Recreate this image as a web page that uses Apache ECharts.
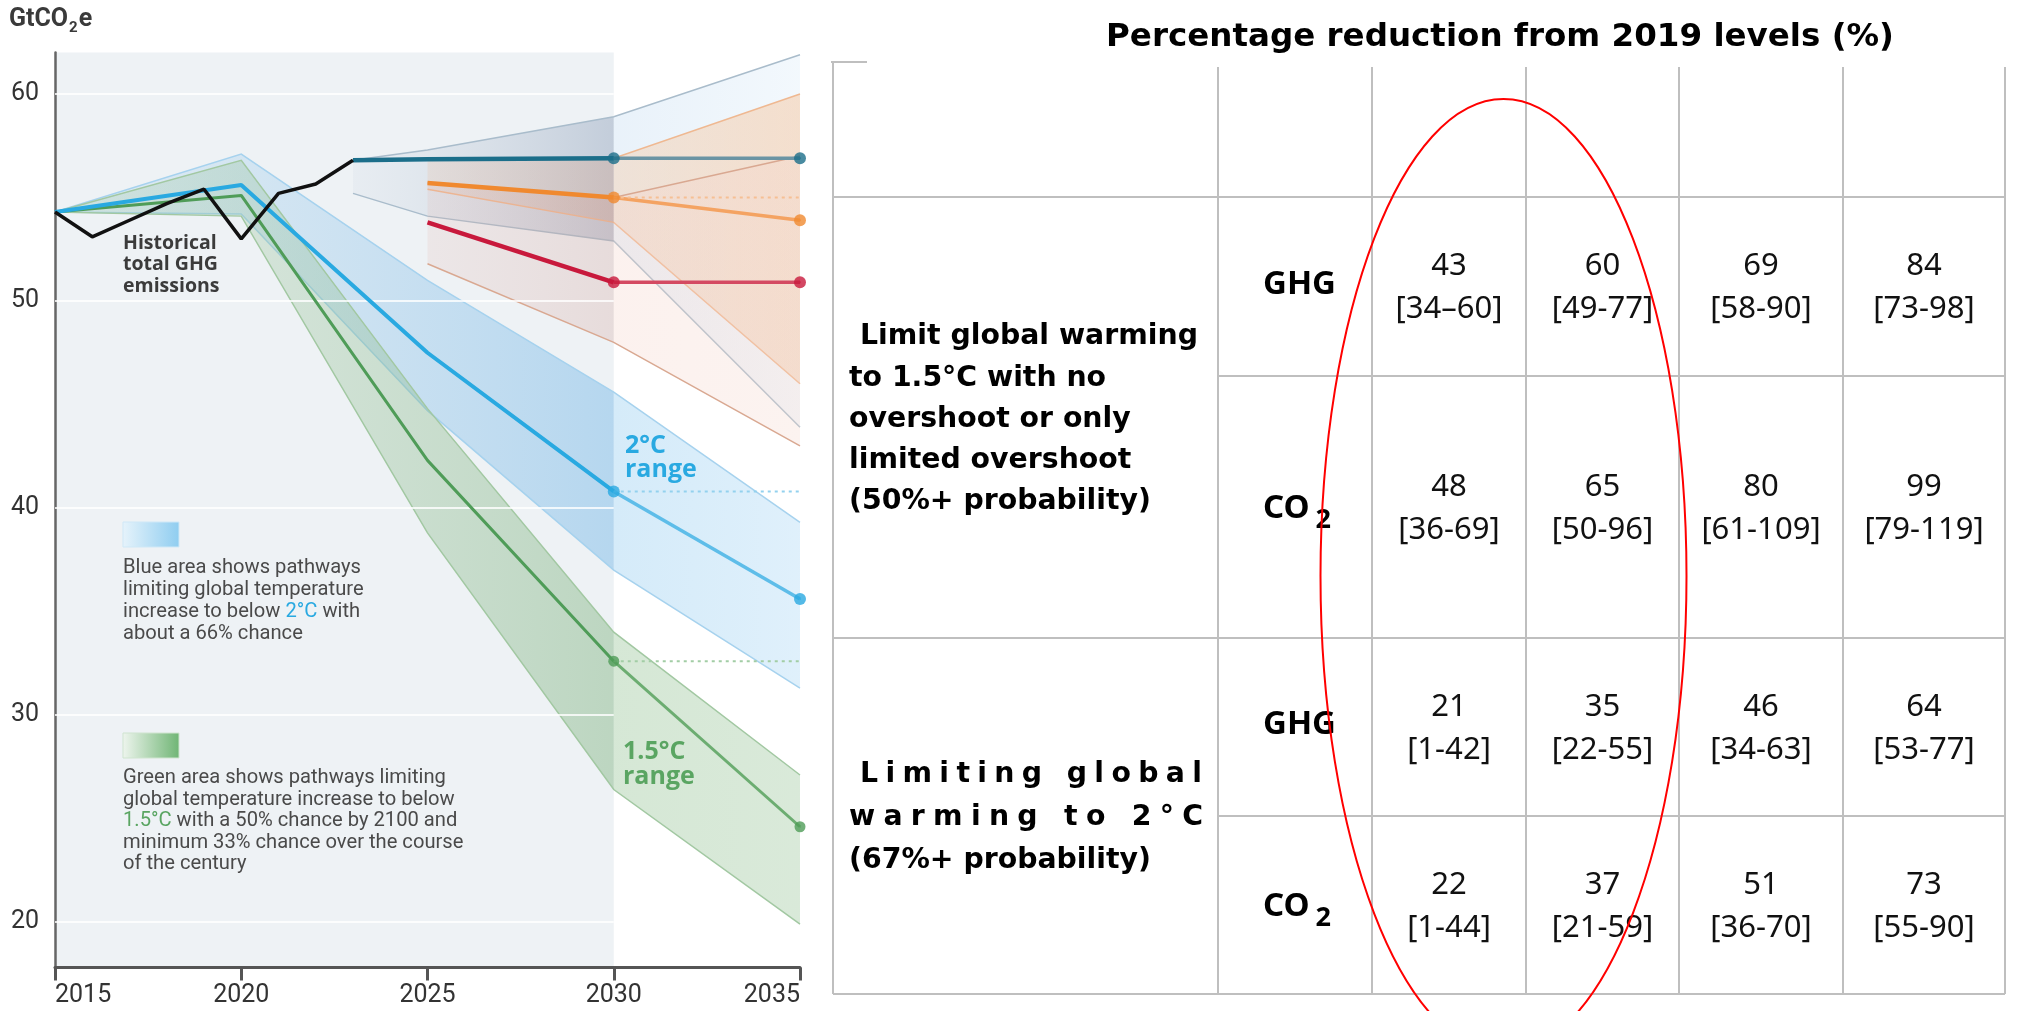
<!DOCTYPE html>
<html><head><meta charset="utf-8">
<script src="https://cdn.jsdelivr.net/npm/echarts@6/dist/echarts.min.js"></script>
<style>html,body{margin:0;padding:0;background:#fff}#c{width:2017px;height:1011px}</style>
</head><body><div id="c"></div>
<script>
// ---------------- DATA ----------------
const unitLabel = ['GtCO', '2', 'e'];
const yTickValues = [20, 30, 40, 50, 60];

const historicalYears = [2015, 2016, 2017, 2018, 2019, 2020, 2021, 2022, 2023];
const historicalValues = [54.3, 53.1, 53.9, 54.7, 55.4, 53.0, 55.2, 55.65, 56.8];

const pathwayYears = [2015, 2020, 2025, 2030, 2035];
const path2C = [54.3, 55.6, 47.5, 40.8, 35.6];
const path2CLow = [54.3, 54.2, 44.7, 37.0, 31.3];
const path2CHigh = [54.3, 57.1, 51.0, 45.6, 39.3];
const path15C = [54.3, 55.1, 42.3, 32.6, 24.6];
const path15CLow = [54.3, 54.1, 38.8, 26.4, 19.9];
const path15CHigh = [54.3, 56.8, 44.8, 34.0, 27.1];

const policyYears = [2023, 2025, 2030, 2035];
const policyValues = [56.8, 56.85, 56.9, 56.9];
const policyLow = [55.2, 54.1, 52.9, 43.9];
const policyHigh = [56.8, 57.3, 58.9, 61.9];

const ndcYears = [2025, 2030, 2035];
const ndcUncond = [55.7, 55.0, 53.9];
const ndcUncondLow = [55.4, 53.8, 46.0];
const ndcUncondHigh = [56.9, 56.9, 60.0];
const ndcCond = [53.8, 50.9, 50.9];
const ndcCondLow = [51.8, 48.0, 43.0];
const ndcCondHigh = [55.7, 55.0, 57.0];

const histLabel = ['Historical', 'total GHG', 'emissions'];
const label2C = ['2°C', 'range'];
const label15C = ['1.5°C', 'range'];
const blueLegend = ['{n|Blue area shows pathways}', '{n|limiting global temperature}', '{n|increase to below }{h|2°C}{n| with}', '{n|about a 66% chance}'];
const greenLegend = ['{n|Green area shows pathways limiting}', '{n|global temperature increase to below}', '{h|1.5°C}{n| with a 50% chance by 2100 and}', '{n|minimum 33% chance over the course}', '{n|of the century}'];

const tableTitle = 'Percentage reduction from 2019 levels (%)';
const group15Label = ['Limit global warming', 'to 1.5°C with no', 'overshoot or only', 'limited overshoot', '(50%+ probability)'];
const group2Label = ['Limiting global', 'warming to 2°C', '(67%+ probability)'];
const gasLabels = ['GHG', 'CO2', 'GHG', 'CO2'];
const centralValues = [[43, 60, 69, 84], [48, 65, 80, 99], [21, 35, 46, 64], [22, 37, 51, 73]];
const rangeLabels = [['34–60', '49-77', '58-90', '73-98'], ['36-69', '50-96', '61-109', '79-119'], ['1-42', '22-55', '34-63', '53-77'], ['1-44', '21-59', '36-70', '55-90']];

// ---------------- LAYOUT ----------------
const Y_MIN = 17.8, Y_MAX = 62, X_MIN = 2015, X_MAX = 2035;
const SPLIT_YEAR = 2030;
const LEADER_END = 2035.8;
const TBL = { left: 833, top: 62, colTop: 67, colX: [1218, 1372, 1526, 1679, 1843, 2005], rowY: [197, 376, 638, 816, 994] };

const mctx = document.createElement('canvas').getContext('2d');
function tw(t, font) { mctx.font = font; return mctx.measureText(t).width; }
function fit(t, weight, family, target) { return 100 * target / tw(t, weight + ' 100px ' + family); }

function pts(years, vals, a, b) {
  return years.map((y, i) => [y, vals[i]]).filter(p => p[0] >= a && p[0] <= b);
}
function grad(c0, c1) {
  return new echarts.graphic.LinearGradient(0, 0, 1, 0, [{ offset: 0, color: c0 }, { offset: 1, color: c1 }]);
}

function band(name, years, lo, hi, fillPre, fillPost, edge) {
  return {
    type: 'custom', name, z: 1, silent: true,
    data: years.map((y, i) => [y, lo[i], hi[i]]),
    renderItem(params, api) {
      if (params.dataIndex !== 0) return null;
      const children = [];
      [[years[0], SPLIT_YEAR, fillPre], [SPLIT_YEAR, years[years.length - 1], fillPost]].forEach(([a, b, fill]) => {
        const idx = years.map((y, i) => i).filter(i => years[i] >= a && years[i] <= b);
        if (idx.length < 2) return;
        const top = idx.map(i => api.coord([years[i], hi[i]]));
        const bot = idx.map(i => api.coord([years[i], lo[i]])).reverse();
        children.push({ type: 'polygon', shape: { points: top.concat(bot) }, style: { fill, stroke: null } });
      });
      children.push({ type: 'polyline', shape: { points: years.map((y, i) => api.coord([y, hi[i]])) }, style: { stroke: edge, lineWidth: 1.5, fill: null } });
      children.push({ type: 'polyline', shape: { points: years.map((y, i) => api.coord([y, lo[i]])) }, style: { stroke: edge, lineWidth: 1.5, fill: null } });
      return { type: 'group', children };
    }
  };
}

function line(data, color, width, z) {
  return { type: 'line', data, symbol: 'none', silent: true, z, lineStyle: { color, width }, clip: false };
}
function leader(year, value, color) {
  return { type: 'line', data: [[year, value], [LEADER_END, value]], symbol: 'none', silent: true, z: 5, clip: false,
    lineStyle: { color, width: 2, type: [3, 4] } };
}
function dots(years, vals, color, size) {
  return { type: 'scatter', data: pts(years, vals, SPLIT_YEAR, X_MAX), symbolSize: size, silent: true, z: 6,
    itemStyle: { color }, clip: false };
}
function valAt(years, vals, y) { return vals[years.indexOf(y)]; }

const C = {
  teal: '#1b6e8a', tealL: '#6a94a4', tealD: '#86aabb',
  orange: '#f0892f', orangeL: '#f4a362', orangeD: '#f6bf94',
  red: '#c8193c', redL: '#d44a62', redD: '#e59aa8',
  blue: '#29a9e1', blueL: '#5ebde9', blueD: '#93d1ee',
  green: '#4f9c58', greenL: '#6cad71', greenD: '#a2cda5'
};

const series = [
  { type: 'custom', z: 0, silent: true, data: [[X_MIN, SPLIT_YEAR]],
    renderItem(params, api) {
      const p0 = api.coord([X_MIN, Y_MAX]), p1 = api.coord([SPLIT_YEAR, Y_MIN]);
      return { type: 'rect', shape: { x: p0[0], y: p0[1], width: p1[0] - p0[0], height: p1[1] - p0[1] }, style: { fill: '#eef2f5' } };
    } },
  band('policyBand', policyYears, policyLow, policyHigh,
    grad('rgba(205,215,228,0.20)', 'rgba(125,145,175,0.38)'), grad('rgba(200,222,242,0.40)', 'rgba(228,240,250,0.45)'), '#a9bccb'),
  band('ndcUncondBand', ndcYears, ndcUncondLow, ndcUncondHigh,
    grad('rgba(235,175,135,0.18)', 'rgba(215,155,125,0.30)'), grad('rgba(248,195,150,0.34)', 'rgba(246,185,135,0.40)'), '#efb891'),
  band('ndcCondBand', ndcYears, ndcCondLow, ndcCondHigh,
    grad('rgba(225,170,160,0.16)', 'rgba(210,155,145,0.26)'), grad('rgba(245,210,200,0.30)', 'rgba(245,215,205,0.30)'), '#d9a891'),
  band('band2C', pathwayYears, path2CLow, path2CHigh,
    grad('rgba(175,212,238,0.25)', 'rgba(120,185,232,0.48)'), grad('rgba(150,205,240,0.40)', 'rgba(185,222,247,0.45)'), '#a6d2ee'),
  band('band15C', pathwayYears, path15CLow, path15CHigh,
    grad('rgba(160,200,160,0.22)', 'rgba(120,175,120,0.42)'), grad('rgba(140,190,140,0.36)', 'rgba(150,195,150,0.36)'), '#a2c8a2'),
  { type: 'custom', z: 2, silent: true, data: yTickValues.map(v => [X_MIN, v]),
    renderItem(params, api) {
      const v = yTickValues[params.dataIndex];
      const a = api.coord([X_MIN, v]), b = api.coord([SPLIT_YEAR, v]);
      return { type: 'line', shape: { x1: a[0], y1: a[1], x2: b[0], y2: b[1] }, style: { stroke: 'rgba(255,255,255,0.8)', lineWidth: 2 } };
    } },
  line(pts(pathwayYears, path15C, X_MIN, SPLIT_YEAR), C.green, 3, 3),
  line(pts(pathwayYears, path15C, SPLIT_YEAR, X_MAX), C.greenL, 3, 3),
  line(pts(pathwayYears, path2C, X_MIN, SPLIT_YEAR), C.blue, 4, 3),
  line(pts(pathwayYears, path2C, SPLIT_YEAR, X_MAX), C.blueL, 3.5, 3),
  line(pts(ndcYears, ndcCond, X_MIN, SPLIT_YEAR), C.red, 4.5, 3),
  line(pts(ndcYears, ndcCond, SPLIT_YEAR, X_MAX), C.redL, 3.5, 3),
  line(pts(ndcYears, ndcUncond, X_MIN, SPLIT_YEAR), C.orange, 4.5, 3),
  line(pts(ndcYears, ndcUncond, SPLIT_YEAR, X_MAX), C.orangeL, 3.5, 3),
  line(pts(policyYears, policyValues, X_MIN, SPLIT_YEAR), C.teal, 4.5, 3),
  line(pts(policyYears, policyValues, SPLIT_YEAR, X_MAX), C.tealL, 3.5, 3),
  line(pts(historicalYears, historicalValues, X_MIN, X_MAX), '#111111', 3.5, 4),
  leader(SPLIT_YEAR, valAt(ndcYears, ndcUncond, SPLIT_YEAR), C.orangeD),
  leader(SPLIT_YEAR, valAt(pathwayYears, path2C, SPLIT_YEAR), C.blueD),
  leader(SPLIT_YEAR, valAt(pathwayYears, path15C, SPLIT_YEAR), C.greenD),
  leader(X_MAX, valAt(policyYears, policyValues, X_MAX), C.tealD),
  leader(X_MAX, valAt(ndcYears, ndcUncond, X_MAX), C.orangeD),
  leader(X_MAX, valAt(ndcYears, ndcCond, X_MAX), C.redD),
  leader(X_MAX, valAt(pathwayYears, path2C, X_MAX), C.blueD),
  leader(X_MAX, valAt(pathwayYears, path15C, X_MAX), C.greenD),
  dots(policyYears, policyValues, C.teal, 12),
  dots(ndcYears, ndcUncond, C.orange, 12),
  dots(ndcYears, ndcCond, C.red, 12),
  dots(pathwayYears, path2C, C.blue, 12),
  dots(pathwayYears, path15C, C.green, 11)
];

// ---------------- GRAPHIC (annotations + table) ----------------
const G = [];
function txt(x, y, text, font, fill, align, extra) {
  const style = Object.assign({ text, fill, align: align || 'left', verticalAlign: 'middle' }, extra || {});
  if (font) style.font = font;
  G.push({ type: 'text', x, y, z: 100, silent: true, style });
}
function ln(x1, y1, x2, y2, stroke, w) {
  G.push({ type: 'line', z: 100, silent: true, shape: { x1, y1, x2, y2 }, style: { stroke, lineWidth: w } });
}

const unitFont = 'bold 25px Roboto', subFont = 'bold 15px Roboto';
let ux = 9;
txt(ux, 20, unitLabel[0], unitFont, '#3a3a3a'); ux += tw(unitLabel[0], unitFont) + 1;
txt(ux, 28, unitLabel[1], subFont, '#3a3a3a'); ux += tw(unitLabel[1], subFont) + 1;
txt(ux, 20, unitLabel[2], unitFont, '#3a3a3a');

histLabel.forEach((t, i) => txt(123, 243 + i * 21.5, t, 'bold 19.5px "Open Sans"', '#3b3b3b'));
label2C.forEach((t, i) => txt(625, 446 + i * 24, t, 'bold 25px "Open Sans"', C.blue));
label15C.forEach((t, i) => txt(623, 752 + i * 25, t, 'bold 25px "Open Sans"', '#5aa562'));

G.push({ type: 'rect', z: 100, silent: true, shape: { x: 123, y: 522, width: 56, height: 25 },
  style: { fill: grad('#e6f3fb', '#8fcdf0'), stroke: '#cfe8f7', lineWidth: 1 } });
G.push({ type: 'rect', z: 100, silent: true, shape: { x: 123, y: 733, width: 56, height: 25 },
  style: { fill: grad('#eef5ee', '#6fb574'), stroke: '#cfe4cf', lineWidth: 1 } });
const legSize = fit('Blue area shows pathways', 'normal', 'Roboto', 238);
function legRich(hc) {
  return { rich: {
    n: { fontSize: legSize, fontFamily: 'Roboto', fill: '#4a4a4a' },
    h: { fontSize: legSize, fontFamily: 'Roboto', fill: hc } } };
}
blueLegend.forEach((t, i) => txt(123, 568 + i * 22, t, null, '#4a4a4a', 'left', legRich(C.blue)));
greenLegend.forEach((t, i) => txt(123, 778 + i * 21.6, t, null, '#4a4a4a', 'left', legRich('#5aa562')));

const titleSize = fit(tableTitle, 'bold', '"DejaVu Sans"', 788);
txt(1500, 38, tableTitle, 'bold ' + titleSize.toFixed(2) + 'px "DejaVu Sans"', '#000', 'center');
const gridC = '#bfbfbf';
ln(TBL.left, TBL.top, TBL.left, TBL.rowY[4], gridC, 2);
ln(TBL.left - 2, TBL.top, TBL.left + 34, TBL.top, gridC, 2);
TBL.colX.forEach(x => ln(x, TBL.colTop, x, TBL.rowY[4], gridC, 2));
ln(TBL.left, TBL.rowY[0], TBL.colX[5], TBL.rowY[0], gridC, 2);
ln(TBL.colX[0], TBL.rowY[1], TBL.colX[5], TBL.rowY[1], gridC, 2);
ln(TBL.left, TBL.rowY[2], TBL.colX[5], TBL.rowY[2], gridC, 2);
ln(TBL.colX[0], TBL.rowY[3], TBL.colX[5], TBL.rowY[3], gridC, 2);
ln(TBL.left, TBL.rowY[4], TBL.colX[5], TBL.rowY[4], gridC, 2);

const lblSize = fit(group15Label[0], 'bold', '"DejaVu Sans"', 338);
const lblFont = 'bold ' + lblSize.toFixed(2) + 'px "DejaVu Sans"';
group15Label.forEach((t, i) => txt(i === 0 ? 860 : 849, 337 + i * 41.2, t, lblFont, '#000'));
function justify(t, x0, x1, y) {
  const chars = t.split('');
  const ws = chars.map(c => tw(c, lblFont));
  const total = ws.reduce((a, b) => a + b, 0);
  const gap = (x1 - x0 - total) / (chars.length - 1);
  let x = x0;
  chars.forEach((c, i) => { if (c !== ' ') txt(x, y, c, lblFont, '#000'); x += ws[i] + gap; });
}
justify(group2Label[0], 860, 1202, 775);
justify(group2Label[1], 849, 1203, 818);
txt(849, 861, group2Label[2], lblFont, '#000');

const rowC = [0, 1, 2, 3].map(i => (TBL.rowY[i] + TBL.rowY[i + 1]) / 2);
const colC = [1, 2, 3, 4].map(i => (TBL.colX[i] + TBL.colX[i + 1]) / 2);
const gasSize = fit('GHG', 'bold', '"Noto Sans"', 73);
const gasFont = 'bold ' + gasSize.toFixed(2) + 'px "Noto Sans"';
const gasSub = 'bold ' + (gasSize * 0.82).toFixed(2) + 'px "Noto Sans"';
gasLabels.forEach((g, r) => {
  if (g === 'GHG') { txt(1263, rowC[r] - 2, g, gasFont, '#000'); }
  else {
    txt(1263, rowC[r] + 2, g.slice(0, 2), gasFont, '#000');
    txt(1263 + tw(g.slice(0, 2), gasFont) + 6, rowC[r] + 13, g.slice(2), gasSub, '#000');
  }
});
const numSize = fit('[34–60]', 'normal', '"Noto Sans"', 107);
const numFont = numSize.toFixed(2) + 'px "Noto Sans"';
centralValues.forEach((row, r) => row.forEach((v, c) => {
  txt(colC[c], rowC[r] - 20, String(v), numFont, '#111', 'center');
  txt(colC[c], rowC[r] + 23, '[' + rangeLabels[r][c] + ']', numFont, '#111', 'center');
}));

G.push({ type: 'ellipse', z: 110, silent: true, shape: { cx: 1503.5, cy: 576, rx: 183, ry: 477 },
  style: { fill: null, stroke: '#ff0000', lineWidth: 2 } });

const option = {
  animation: false,
  backgroundColor: '#ffffff',
  grid: { left: 55, right: 1217, top: 52.6, bottom: 43.5, outerBoundsMode: 'none' },
  xAxis: {
    type: 'value', min: X_MIN, max: X_MAX, interval: 5,
    axisLine: { lineStyle: { color: '#555', width: 3 } },
    axisTick: { length: 13, lineStyle: { color: '#555', width: 3 } },
    axisLabel: { fontSize: 25, color: '#333', fontFamily: 'Roboto', margin: 16, alignMinLabel: 'left', alignMaxLabel: 'right', formatter: v => String(v) },
    splitLine: { show: false }
  },
  yAxis: {
    type: 'value', min: Y_MIN, max: Y_MAX,
    axisLine: { show: true, lineStyle: { color: '#666', width: 2.5 } },
    axisTick: { show: false, customValues: yTickValues },
    axisLabel: { customValues: yTickValues, fontSize: 25, color: '#333', fontFamily: 'Roboto', margin: 16 },
    splitLine: { show: false }
  },
  series,
  graphic: G
};
const chart = echarts.init(document.getElementById('c'), null, { renderer: 'canvas' });
chart.setOption(option);
</script></body></html>
